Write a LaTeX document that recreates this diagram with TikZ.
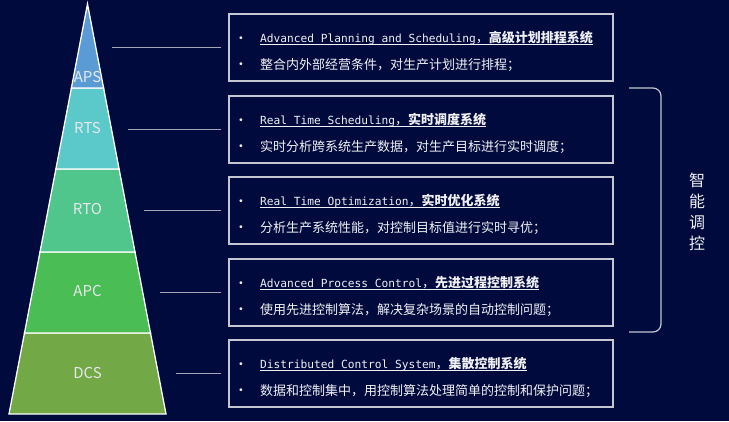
\documentclass[tikz,border=0pt]{standalone}
\usepackage{fontspec}
\newfontfamily\cjk{Noto Sans CJK SC}
\newfontfamily\mono{DejaVu Sans Mono}
\definecolor{bg}{HTML}{000A3D}
\definecolor{aps}{HTML}{5B9BD5}
\definecolor{rts}{HTML}{5BC9C9}
\definecolor{rto}{HTML}{50C58C}
\definecolor{apc}{HTML}{4BBD55}
\definecolor{dcs}{HTML}{72A845}
\definecolor{txt}{HTML}{F0F0F4}
\definecolor{lblc}{HTML}{E6E8EC}
\definecolor{boxc}{HTML}{C4C6D2}
\definecolor{connc}{HTML}{A4A6B8}
\tikzset{
  band/.style={draw=white, line width=1.3pt, line join=miter},
  lbl/.style={text=lblc, inner sep=0pt, font=\cjk\fontsize{15}{17}\selectfont},
  infobox/.style={draw=boxc, line width=1.2pt, minimum width=384pt, minimum height=67pt, inner sep=0pt},
  conn/.style={draw=connc, line width=1pt},
  ttl/.style={anchor=base west, inner sep=0pt, text=txt, font=\cjk\fontsize{13}{15}\selectfont},
  desc/.style={anchor=base west, inner sep=0pt, text=txt, font=\cjk\fontsize{13}{15}\selectfont},
  ul/.style={draw=txt, line width=0.9pt},
  bul/.style={inner sep=0pt, text=txt, font=\fontsize{10}{11}\selectfont},
  bracket/.style={draw=boxc, line width=1.2pt, rounded corners=8pt},
  vt/.style={align=center, inner sep=0pt, text=txt, font=\cjk\fontsize{16}{21}\selectfont}
}
\newcommand{\mt}[1]{{\fontsize{11.2}{13}\selectfont\mono #1}}
\begin{document}
\begin{tikzpicture}[x=1pt,y=-1pt]
\fill[bg] (0,0) rectangle (729,421);
\useasboundingbox (0,0) rectangle (729,421);
% pyramid
\filldraw[band, fill=dcs] (24.5,333) -- (150.5,333) -- (166,414) -- (9,414) -- cycle;
\filldraw[band, fill=apc] (40,252) -- (135,252) -- (150.5,333) -- (24.5,333) -- cycle;
\filldraw[band, fill=rto] (55.9,169) -- (119.1,169) -- (135,252) -- (40,252) -- cycle;
\filldraw[band, fill=rts] (71.4,88) -- (103.6,88) -- (119.1,169) -- (55.9,169) -- cycle;
\filldraw[band, fill=aps] (87.5,4) -- (103.6,88) -- (71.4,88) -- cycle;
\node[lbl] (laps) at (87.5,77) {APS};
\node[lbl] (lrts) at (87.5,128) {RTS};
\node[lbl] (lrto) at (87.5,209) {RTO};
\node[lbl] (lapc) at (87.5,291) {APC};
\node[lbl] (ldcs) at (87.5,373) {DCS};
% boxes
\node[infobox] (b1) at (421,47.5) {};
\node[infobox] (b2) at (421,129.5) {};
\node[infobox] (b3) at (421,210.5) {};
\node[infobox] (b4) at (421,292.5) {};
\node[infobox] (b5) at (421,373.5) {};
% connectors
\coordinate (c1) at (112,47.5);
\coordinate (c2) at (128,129.5);
\coordinate (c3) at (144,210.5);
\coordinate (c4) at (160,292.5);
\coordinate (c5) at (176,373.5);
\draw[conn] (c1) -- ([xshift=-7pt]b1.west);
\draw[conn] (c2) -- ([xshift=-7pt]b2.west);
\draw[conn] (c3) -- ([xshift=-7pt]b3.west);
\draw[conn] (c4) -- ([xshift=-7pt]b4.west);
\draw[conn] (c5) -- ([xshift=-7pt]b5.west);
% texts box 1
\node[ttl] (t1) at (260,42.5) {\mt{Advanced Planning and Scheduling}，\bfseries 高级计划排程系统};
\draw[ul] ([yshift=-2pt]t1.base west) -- ([yshift=-2pt]t1.base east);
\node[desc] (d1) at (260,69) {整合内外部经营条件，对生产计划进行排程；};
\node[bul] (p1a) at (241,38.5) {\textbullet};
\node[bul] (p1b) at (241,64.5) {\textbullet};
% box 2
\node[ttl] (t2) at (260,124.5) {\mt{Real Time Scheduling}，\bfseries 实时调度系统};
\draw[ul] ([yshift=-2pt]t2.base west) -- ([yshift=-2pt]t2.base east);
\node[desc] (d2) at (260,151) {实时分析跨系统生产数据，对生产目标进行实时调度；};
\node[bul] (p2a) at (241,120.5) {\textbullet};
\node[bul] (p2b) at (241,146.5) {\textbullet};
% box 3
\node[ttl] (t3) at (260,205.5) {\mt{Real Time Optimization}，\bfseries 实时优化系统};
\draw[ul] ([yshift=-2pt]t3.base west) -- ([yshift=-2pt]t3.base east);
\node[desc] (d3) at (260,232) {分析生产系统性能，对控制目标值进行实时寻优；};
\node[bul] (p3a) at (241,201.5) {\textbullet};
\node[bul] (p3b) at (241,227.5) {\textbullet};
% box 4
\node[ttl] (t4) at (260,287.5) {\mt{Advanced Process Control}，\bfseries 先进过程控制系统};
\draw[ul] ([yshift=-2pt]t4.base west) -- ([yshift=-2pt]t4.base east);
\node[desc] (d4) at (260,314) {使用先进控制算法，解决复杂场景的自动控制问题；};
\node[bul] (p4a) at (241,283.5) {\textbullet};
\node[bul] (p4b) at (241,309.5) {\textbullet};
% box 5
\node[ttl] (t5) at (260,368.5) {\mt{Distributed Control System}，\bfseries 集散控制系统};
\draw[ul] ([yshift=-2pt]t5.base west) -- ([yshift=-2pt]t5.base east);
\node[desc] (d5) at (260,395) {数据和控制集中，用控制算法处理简单的控制和保护问题；};
\node[bul] (p5a) at (241,364.5) {\textbullet};
\node[bul] (p5b) at (241,390.5) {\textbullet};
% bracket
\coordinate (k1) at (629,88);
\coordinate (k2) at (661,88);
\coordinate (k3) at (661,332);
\coordinate (k4) at (629,332);
\draw[bracket] (k1) -- (k2) -- (k3) -- (k4);
\node[vt] (vt) at (697,211.5) {智\\能\\调\\控};
\end{tikzpicture}
\end{document}
